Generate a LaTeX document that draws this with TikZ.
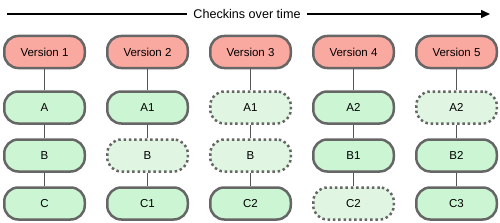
\documentclass[tikz,border=0pt]{standalone}
\usepackage{fontspec}
\setmainfont{Liberation Sans}
\usetikzlibrary{arrows.meta}
\definecolor{vred}{HTML}{FAA9A0}
\definecolor{bgreen}{HTML}{CBF5D3}
\definecolor{lgreen}{HTML}{E0F5E2}
\definecolor{bordergray}{HTML}{666666}
\definecolor{linkgray}{HTML}{555555}
\begin{document}
\begin{tikzpicture}[x=1pt,y=-1pt,
  box/.style={draw=bordergray, line width=2.5pt, rounded corners=14pt,
    minimum width=80.5pt, minimum height=32pt, inner sep=0pt,
    font=\fontsize{11.5}{13}\selectfont},
  version/.style={box, fill=vred},
  blob/.style={box, fill=bgreen},
  ghost/.style={box, fill=lgreen, dash pattern=on 2.5pt off 2.8pt},
  link/.style={draw=linkgray, line width=1.3pt},
  timeline/.style={draw=black, line width=1.5pt}
]
\useasboundingbox (0,0) rectangle (500,222);
% timeline
\coordinate (tstart) at (7,14);
\coordinate (tend) at (490,14);
\node[font=\fontsize{12.6}{14}\selectfont, inner xsep=6pt, inner ysep=0pt] (title) at (247,14) {Checkins over time};
\draw[timeline] (tstart) -- (title.west);
\draw[timeline, -{Triangle[length=9pt,width=8pt]}] (title.east) -- (tend);

% column 1
\node[version] (v1) at (44.5,52) {Version 1};
\node[blob] (a1) at (44.5,107.5) {A};
\node[blob] (b1) at (44.5,155.5) {B};
\node[blob] (c1) at (44.5,203.5) {C};
% column 2
\node[version] (v2) at (147.5,52) {Version 2};
\node[blob] (a2) at (147.5,107.5) {A1};
\node[ghost] (b2) at (147.5,155.5) {B};
\node[blob] (c2) at (147.5,203.5) {C1};
% column 3
\node[version] (v3) at (250.5,52) {Version 3};
\node[ghost] (a3) at (250.5,107.5) {A1};
\node[ghost] (b3) at (250.5,155.5) {B};
\node[blob] (c3) at (250.5,203.5) {C2};
% column 4
\node[version] (v4) at (353.5,52) {Version 4};
\node[blob] (a4) at (353.5,107.5) {A2};
\node[blob] (b4) at (353.5,155.5) {B1};
\node[ghost] (c4) at (353.5,203.5) {C2};
% column 5
\node[version] (v5) at (456.5,52) {Version 5};
\node[ghost] (a5) at (456.5,107.5) {A2};
\node[blob] (b5) at (456.5,155.5) {B2};
\node[blob] (c5) at (456.5,203.5) {C3};

\foreach \i in {1,...,5}{
  \draw[link] (v\i) -- (a\i);
  \draw[link] (a\i) -- (b\i);
  \draw[link] (b\i) -- (c\i);
}
\end{tikzpicture}
\end{document}
